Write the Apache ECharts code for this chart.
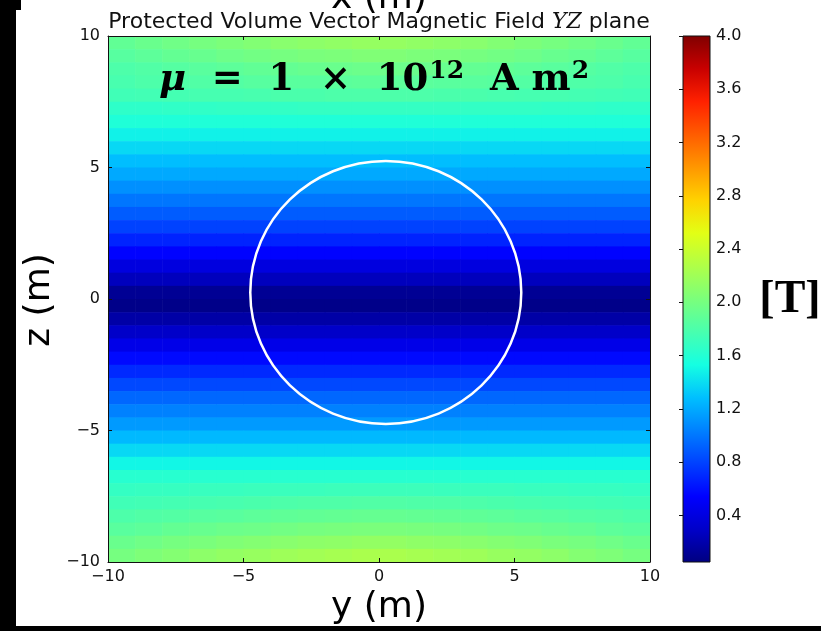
<!DOCTYPE html>
<html>
<head>
<meta charset="utf-8">
<title>Protected Volume Vector Magnetic Field YZ plane</title>
<script src="https://cdn.jsdelivr.net/npm/echarts@6/dist/echarts.min.js"></script>
<style>
  html, body { margin: 0; padding: 0; background: #ffffff; }
  #chart { width: 821px; height: 631px; }
</style>
</head>
<body>
<div id="chart"></div>
<script>
// Horizontal cell centres (y, metres) and vertical cell centres (z, metres)
const yCenters = [-9.5, -8.5, -7.5, -6.5, -5.5, -4.5, -3.5, -2.5, -1.5, -0.5,
                  0.5, 1.5, 2.5, 3.5, 4.5, 5.5, 6.5, 7.5, 8.5, 9.5];
const zCenters = [9.75, 9.25, 8.75, 8.25, 7.75, 7.25, 6.75, 6.25, 5.75, 5.25,
                  4.75, 4.25, 3.75, 3.25, 2.75, 2.25, 1.75, 1.25, 0.75, 0.25,
                  -0.25, -0.75, -1.25, -1.75, -2.25, -2.75, -3.25, -3.75, -4.25, -4.75,
                  -5.25, -5.75, -6.25, -6.75, -7.25, -7.75, -8.25, -8.75, -9.25, -9.75];

// |B| in tesla, one row per z centre (top to bottom), one column per y centre
const fieldGrid = [
  [1.90, 1.94, 1.97, 2.00, 2.03, 2.06, 2.09, 2.11, 2.13, 2.15, 2.15, 2.13, 2.11, 2.09, 2.06, 2.03, 2.00, 1.97, 1.94, 1.90],
  [1.85, 1.88, 1.91, 1.93, 1.96, 1.98, 2.00, 2.02, 2.03, 2.05, 2.05, 2.03, 2.02, 2.00, 1.98, 1.96, 1.93, 1.91, 1.88, 1.85],
  [1.80, 1.82, 1.84, 1.86, 1.88, 1.90, 1.91, 1.93, 1.94, 1.95, 1.95, 1.94, 1.93, 1.91, 1.90, 1.88, 1.86, 1.84, 1.82, 1.80],
  [1.78, 1.80, 1.81, 1.82, 1.83, 1.85, 1.86, 1.86, 1.87, 1.88, 1.88, 1.87, 1.86, 1.86, 1.85, 1.83, 1.82, 1.81, 1.80, 1.78],
  [1.74, 1.75, 1.76, 1.77, 1.77, 1.78, 1.79, 1.79, 1.80, 1.80, 1.80, 1.80, 1.79, 1.79, 1.78, 1.77, 1.77, 1.76, 1.75, 1.74],
  [1.65, 1.65, 1.66, 1.66, 1.67, 1.67, 1.67, 1.68, 1.68, 1.68, 1.68, 1.68, 1.68, 1.67, 1.67, 1.67, 1.66, 1.66, 1.65, 1.65],
  [1.58, 1.58, 1.58, 1.58, 1.58, 1.58, 1.58, 1.58, 1.58, 1.58, 1.58, 1.58, 1.58, 1.58, 1.58, 1.58, 1.58, 1.58, 1.58, 1.58],
  [1.48, 1.48, 1.48, 1.48, 1.48, 1.48, 1.48, 1.48, 1.48, 1.48, 1.48, 1.48, 1.48, 1.48, 1.48, 1.48, 1.48, 1.48, 1.48, 1.48],
  [1.38, 1.38, 1.38, 1.38, 1.38, 1.38, 1.38, 1.38, 1.38, 1.38, 1.38, 1.38, 1.38, 1.38, 1.38, 1.38, 1.38, 1.38, 1.38, 1.38],
  [1.28, 1.28, 1.28, 1.28, 1.28, 1.28, 1.28, 1.28, 1.28, 1.28, 1.28, 1.28, 1.28, 1.28, 1.28, 1.28, 1.28, 1.28, 1.28, 1.28],
  [1.20, 1.20, 1.20, 1.20, 1.20, 1.20, 1.20, 1.20, 1.20, 1.20, 1.20, 1.20, 1.20, 1.20, 1.20, 1.20, 1.20, 1.20, 1.20, 1.20],
  [1.10, 1.10, 1.10, 1.10, 1.10, 1.10, 1.10, 1.10, 1.10, 1.10, 1.10, 1.10, 1.10, 1.10, 1.10, 1.10, 1.10, 1.10, 1.10, 1.10],
  [1.00, 1.00, 1.00, 1.00, 1.00, 1.00, 1.00, 1.00, 1.00, 1.00, 1.00, 1.00, 1.00, 1.00, 1.00, 1.00, 1.00, 1.00, 1.00, 1.00],
  [0.90, 0.90, 0.90, 0.90, 0.90, 0.90, 0.90, 0.90, 0.90, 0.90, 0.90, 0.90, 0.90, 0.90, 0.90, 0.90, 0.90, 0.90, 0.90, 0.90],
  [0.80, 0.80, 0.80, 0.80, 0.80, 0.80, 0.80, 0.80, 0.80, 0.80, 0.80, 0.80, 0.80, 0.80, 0.80, 0.80, 0.80, 0.80, 0.80, 0.80],
  [0.68, 0.68, 0.68, 0.68, 0.68, 0.68, 0.68, 0.68, 0.68, 0.68, 0.68, 0.68, 0.68, 0.68, 0.68, 0.68, 0.68, 0.68, 0.68, 0.68],
  [0.55, 0.55, 0.55, 0.55, 0.55, 0.55, 0.55, 0.55, 0.55, 0.55, 0.55, 0.55, 0.55, 0.55, 0.55, 0.55, 0.55, 0.55, 0.55, 0.55],
  [0.40, 0.40, 0.40, 0.40, 0.40, 0.40, 0.40, 0.40, 0.40, 0.40, 0.40, 0.40, 0.40, 0.40, 0.40, 0.40, 0.40, 0.40, 0.40, 0.40],
  [0.26, 0.26, 0.26, 0.26, 0.26, 0.26, 0.26, 0.26, 0.26, 0.26, 0.26, 0.26, 0.26, 0.26, 0.26, 0.26, 0.26, 0.26, 0.26, 0.26],
  [0.12, 0.12, 0.12, 0.12, 0.12, 0.12, 0.12, 0.12, 0.12, 0.12, 0.12, 0.12, 0.12, 0.12, 0.12, 0.12, 0.12, 0.12, 0.12, 0.12],
  [0.08, 0.08, 0.08, 0.08, 0.08, 0.08, 0.08, 0.08, 0.08, 0.08, 0.08, 0.08, 0.08, 0.08, 0.08, 0.08, 0.08, 0.08, 0.08, 0.08],
  [0.18, 0.18, 0.18, 0.18, 0.18, 0.18, 0.18, 0.18, 0.18, 0.18, 0.18, 0.18, 0.18, 0.18, 0.18, 0.18, 0.18, 0.18, 0.18, 0.18],
  [0.30, 0.30, 0.30, 0.30, 0.30, 0.30, 0.30, 0.30, 0.30, 0.30, 0.30, 0.30, 0.30, 0.30, 0.30, 0.30, 0.30, 0.30, 0.30, 0.30],
  [0.44, 0.44, 0.44, 0.44, 0.44, 0.44, 0.44, 0.44, 0.44, 0.44, 0.44, 0.44, 0.44, 0.44, 0.44, 0.44, 0.44, 0.44, 0.44, 0.44],
  [0.58, 0.58, 0.58, 0.58, 0.58, 0.58, 0.58, 0.58, 0.58, 0.58, 0.58, 0.58, 0.58, 0.58, 0.58, 0.58, 0.58, 0.58, 0.58, 0.58],
  [0.70, 0.70, 0.70, 0.70, 0.70, 0.70, 0.70, 0.70, 0.70, 0.70, 0.70, 0.70, 0.70, 0.70, 0.70, 0.70, 0.70, 0.70, 0.70, 0.70],
  [0.82, 0.82, 0.82, 0.82, 0.82, 0.82, 0.82, 0.82, 0.82, 0.82, 0.82, 0.82, 0.82, 0.82, 0.82, 0.82, 0.82, 0.82, 0.82, 0.82],
  [0.94, 0.94, 0.94, 0.94, 0.94, 0.94, 0.94, 0.94, 0.94, 0.94, 0.94, 0.94, 0.94, 0.94, 0.94, 0.94, 0.94, 0.94, 0.94, 0.94],
  [1.04, 1.04, 1.04, 1.04, 1.04, 1.04, 1.04, 1.04, 1.04, 1.04, 1.04, 1.04, 1.04, 1.04, 1.04, 1.04, 1.04, 1.04, 1.04, 1.04],
  [1.14, 1.14, 1.14, 1.14, 1.14, 1.14, 1.14, 1.14, 1.14, 1.14, 1.14, 1.14, 1.14, 1.14, 1.14, 1.14, 1.14, 1.14, 1.14, 1.14],
  [1.26, 1.26, 1.26, 1.26, 1.26, 1.26, 1.26, 1.26, 1.26, 1.26, 1.26, 1.26, 1.26, 1.26, 1.26, 1.26, 1.26, 1.26, 1.26, 1.26],
  [1.38, 1.38, 1.38, 1.38, 1.38, 1.38, 1.38, 1.38, 1.38, 1.38, 1.38, 1.38, 1.38, 1.38, 1.38, 1.38, 1.38, 1.38, 1.38, 1.38],
  [1.50, 1.50, 1.50, 1.50, 1.50, 1.50, 1.50, 1.50, 1.50, 1.50, 1.50, 1.50, 1.50, 1.50, 1.50, 1.50, 1.50, 1.50, 1.50, 1.50],
  [1.62, 1.62, 1.62, 1.62, 1.62, 1.62, 1.62, 1.62, 1.62, 1.62, 1.62, 1.62, 1.62, 1.62, 1.62, 1.62, 1.62, 1.62, 1.62, 1.62],
  [1.68, 1.69, 1.69, 1.70, 1.70, 1.71, 1.71, 1.71, 1.72, 1.72, 1.72, 1.72, 1.71, 1.71, 1.71, 1.70, 1.70, 1.69, 1.69, 1.68],
  [1.74, 1.75, 1.76, 1.77, 1.78, 1.79, 1.80, 1.81, 1.81, 1.82, 1.82, 1.81, 1.81, 1.80, 1.79, 1.78, 1.77, 1.76, 1.75, 1.74],
  [1.80, 1.82, 1.83, 1.85, 1.86, 1.88, 1.89, 1.90, 1.91, 1.92, 1.92, 1.91, 1.90, 1.89, 1.88, 1.86, 1.85, 1.83, 1.82, 1.80],
  [1.86, 1.88, 1.91, 1.93, 1.95, 1.96, 1.98, 2.00, 2.01, 2.02, 2.02, 2.01, 2.00, 1.98, 1.96, 1.95, 1.93, 1.91, 1.88, 1.86],
  [1.94, 1.97, 2.00, 2.02, 2.05, 2.07, 2.09, 2.11, 2.12, 2.14, 2.14, 2.12, 2.11, 2.09, 2.07, 2.05, 2.02, 2.00, 1.97, 1.94],
  [2.00, 2.04, 2.07, 2.11, 2.14, 2.16, 2.19, 2.21, 2.23, 2.25, 2.25, 2.23, 2.21, 2.19, 2.16, 2.14, 2.11, 2.07, 2.04, 2.00]
];

// Protected volume boundary: centre (y, z) and radius in metres
const volumeCenter = [0.25, 0.25];
const volumeRadius = 5;

// Axis ticks
const axisTicks = [-10, -5, 0, 5, 10];
const colorbarTicks = [0.4, 0.8, 1.2, 1.6, 2.0, 2.4, 2.8, 3.2, 3.6, 4.0];
const colorMin = 0.05;
const colorMax = 4.0;

// "jet" colour scale, sampled at even steps
const jetColors = ['#000080', '#0000C8', '#0000FF', '#0040FF', '#0080FF', '#00BFFF',
                   '#15FFE2', '#48FFAF', '#7BFF7B', '#AFFF48', '#E2FF15', '#FFD200',
                   '#FF9700', '#FF5C00', '#FF2100', '#C80000', '#800000'];

const cellData = [];
zCenters.forEach((z, i) => {
  yCenters.forEach((y, j) => {
    cellData.push([y, z, fieldGrid[i][j]]);
  });
});
const halfW = (yCenters[1] - yCenters[0]) / 2;
const halfH = (zCenters[0] - zCenters[1]) / 2;

const minusFmt = v => (v < 0 ? '\u2212' + Math.abs(v) : String(v));

const chart = echarts.init(document.getElementById('chart'), null, { renderer: 'canvas' });

const tickFont = { fontFamily: 'DejaVu Sans', fontSize: 16, color: '#111' };

const mainAxisCommon = {
  gridIndex: 0, type: 'value', min: axisTicks[0], max: axisTicks[axisTicks.length - 1],
  interval: axisTicks[1] - axisTicks[0], z: 6,
  splitLine: { show: false },
  axisLine: { show: true, onZero: false, lineStyle: { color: '#111', width: 1 } },
  axisTick: { show: true, inside: true, length: 4, lineStyle: { color: '#111' } }
};

chart.setOption({
  animation: false,
  backgroundColor: '#ffffff',
  grid: [
    { left: 108, top: 36, width: 542, height: 526, containLabel: false },
    { left: 683, top: 36, width: 27, height: 526, containLabel: false }
  ],
  xAxis: [
    Object.assign({}, mainAxisCommon, { position: 'bottom',
      axisLabel: Object.assign({ margin: 7, formatter: minusFmt }, tickFont) }),
    Object.assign({}, mainAxisCommon, { position: 'top', axisLabel: { show: false } }),
    { gridIndex: 1, type: 'value', min: 0, max: 1, show: false }
  ],
  yAxis: [
    Object.assign({}, mainAxisCommon, { position: 'left',
      axisLabel: Object.assign({ margin: 8, formatter: minusFmt }, tickFont) }),
    Object.assign({}, mainAxisCommon, { position: 'right', axisLabel: { show: false } }),
    {
      gridIndex: 1, type: 'value', position: 'right', min: colorMin, max: colorMax, z: 6,
      splitLine: { show: false },
      axisLine: { show: false },
      axisTick: { show: true, inside: true, length: 4, customValues: colorbarTicks,
                  lineStyle: { color: '#111' } },
      axisLabel: Object.assign({ margin: 6, customValues: colorbarTicks,
                  formatter: v => Number(v).toFixed(1) }, tickFont)
    }
  ],
  visualMap: {
    show: false, type: 'continuous', seriesIndex: 0, dimension: 2,
    min: colorMin, max: colorMax, inRange: { color: jetColors }
  },
  series: [
    {
      type: 'custom', xAxisIndex: 0, yAxisIndex: 0, clip: true,
      data: cellData,
      renderItem: (params, api) => {
        const y = api.value(0), z = api.value(1);
        const p0 = api.coord([y - halfW, z + halfH]);
        const p1 = api.coord([y + halfW, z - halfH]);
        return {
          type: 'rect',
          shape: { x: p0[0], y: p0[1], width: p1[0] - p0[0] + 0.6, height: p1[1] - p0[1] + 0.6 },
          style: { fill: api.visual('color'), stroke: null }
        };
      }
    },
    {
      type: 'custom', xAxisIndex: 0, yAxisIndex: 0, clip: true, z: 5,
      data: [[volumeCenter[0], volumeCenter[1], volumeRadius]],
      renderItem: (params, api) => {
        const c = api.coord([api.value(0), api.value(1)]);
        const s = api.size([api.value(2), api.value(2)]);
        return {
          type: 'ellipse',
          shape: { cx: c[0], cy: c[1], rx: s[0], ry: s[1] },
          style: { fill: null, stroke: '#ffffff', lineWidth: 2.5 }
        };
      }
    },
    {
      type: 'custom', xAxisIndex: 2, yAxisIndex: 2, clip: false,
      data: [[colorMin, colorMax]],
      renderItem: (params, api) => {
        const p0 = api.coord([0, api.value(1)]);
        const p1 = api.coord([1, api.value(0)]);
        const stops = jetColors.map((c, k) => ({ offset: k / (jetColors.length - 1), color: c }));
        return {
          type: 'rect',
          shape: { x: p0[0], y: p0[1], width: p1[0] - p0[0], height: p1[1] - p0[1] },
          style: { fill: new echarts.graphic.LinearGradient(0, 1, 0, 0, stops),
                   stroke: '#111', lineWidth: 1 }
        };
      }
    }
  ],
  graphic: [
    { type: 'text', z: 10,
      style: { x: 379, y: -1, text: 'x (m)', fontFamily: 'DejaVu Sans', fontSize: 36,
               fill: '#000', align: 'center', verticalAlign: 'middle' } },
    { type: 'text', z: 11,
      style: { x: 379, y: 22, align: 'center', verticalAlign: 'middle',
        text: '{t|Protected Volume Vector Magnetic Field }{m|YZ}{t| plane}',
        rich: {
          t: { fontFamily: 'DejaVu Sans', fontSize: 22, fill: '#111' },
          m: { fontFamily: 'DejaVu Serif', fontStyle: 'italic', fontSize: 22, fill: '#111' }
        } } },
    { type: 'text', z: 10,
      style: { x: 379, y: 608, text: 'y (m)', fontFamily: 'DejaVu Sans', fontSize: 36,
               fill: '#000', align: 'center', verticalAlign: 'middle' } },
    { type: 'text', z: 10, x: 40, y: 300, rotation: Math.PI / 2,
      style: { x: 0, y: 0, text: 'z (m)', fontFamily: 'DejaVu Sans', fontSize: 36,
               fill: '#000', align: 'center', verticalAlign: 'middle' } },
    { type: 'text', z: 12,
      style: { x: 374, y: 80, align: 'center', verticalAlign: 'middle',
        text: '{mu|μ}{t|  =  1  ×  10}{sup|12}{t|  A m}{sup|2}',
        rich: {
          mu: { fontFamily: 'DejaVu Serif', fontStyle: 'italic', fontWeight: 'bold', fontSize: 37, fill: '#000' },
          t: { fontFamily: 'DejaVu Serif', fontWeight: 'bold', fontSize: 37, fill: '#000' },
          sup: { fontFamily: 'DejaVu Serif', fontWeight: 'bold', fontSize: 25, fill: '#000',
                 padding: [0, 0, 18, 1] }
        } } },
    { type: 'text', z: 10,
      style: { x: 790, y: 300, text: '[T]', fontFamily: 'Liberation Serif', fontWeight: 'bold',
               fontSize: 46, fill: '#000', align: 'center', verticalAlign: 'middle' } },
    { type: 'rect', z: 20, shape: { x: 0, y: 0, width: 21, height: 10 }, style: { fill: '#000' } },
    { type: 'rect', z: 20, shape: { x: 0, y: 0, width: 16, height: 631 }, style: { fill: '#000' } },
    { type: 'rect', z: 20, shape: { x: 0, y: 626, width: 821, height: 5 }, style: { fill: '#000' } }
  ]
});
</script>
</body>
</html>
